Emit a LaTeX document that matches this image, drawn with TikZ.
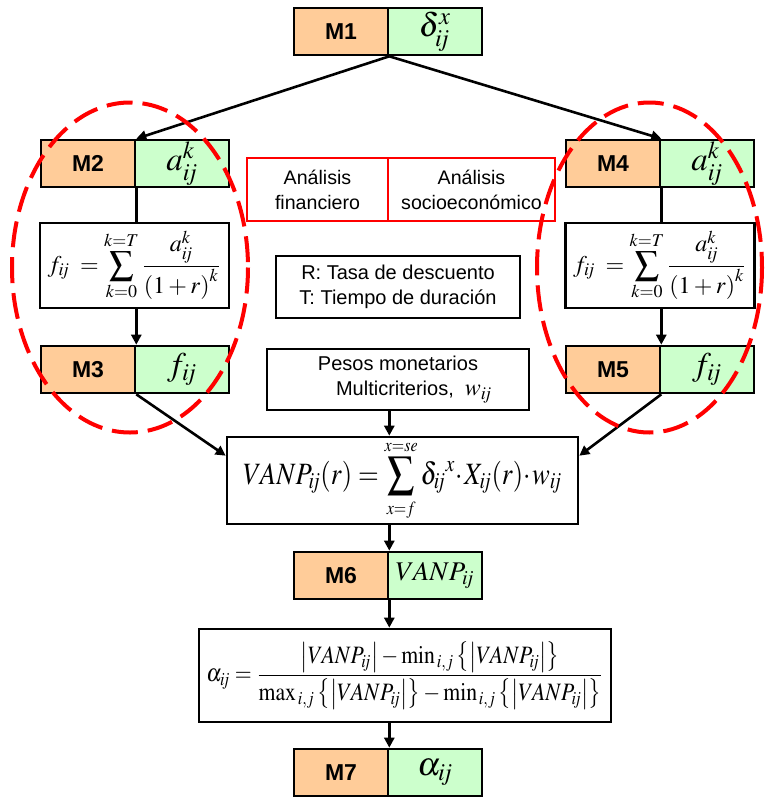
\documentclass[tikz,border=0pt]{standalone}
\usepackage{mathptmx}
\usepackage{graphicx}
\usepackage{fontspec}
\setmainfont{Liberation Serif}
\setsansfont{Liberation Sans}
\usetikzlibrary{arrows.meta}
\definecolor{orM}{HTML}{FFCC99}
\definecolor{grM}{HTML}{CCFFCC}
\newcommand{\sij}{\mathit{ij}}
\tikzset{
  bx/.style={draw, line width=1.3pt, inner sep=0pt},
  mlab/.style={bx, fill=orM, minimum width=47pt, minimum height=23.5pt, font=\sffamily\bfseries\fontsize{11.5}{13}\selectfont},
  mval/.style={bx, fill=grM, minimum width=47pt, minimum height=23.5pt, font=\fontsize{16.5}{18}\selectfont},
  fbox/.style={bx, fill=white},
  redbox/.style={draw=red, line width=1pt, inner sep=0pt, align=center, font=\sffamily\fontsize{9.8}{12.5}\selectfont},
  txtbox/.style={bx, align=center, font=\sffamily\fontsize{10}{12.5}\selectfont},
  ln/.style={line width=1.3pt},
  arr/.style={line width=1.3pt, -{Triangle[length=5pt,width=5pt]}},
  ell/.style={draw=red, line width=2pt, dash pattern=on 13pt off 5pt}
}
\begin{document}
\begin{tikzpicture}[x=0.5pt,y=-0.5pt]
\useasboundingbox (0,0) rectangle (765,798);
% M1
\node[mlab] (m1o) at (341,31.5) {M1};
\node[mval] (m1g) at (435,31.5) {$\delta_{\sij}^{x}$};
% M2 / M4
\node[mlab] (m2o) at (88,163.5) {M2};
\node[mval] (m2g) at (182,163.5) {$a_{\sij}^{k}$};
\node[mlab] (m4o) at (613,163.5) {M4};
\node[mval] (m4g) at (707,163.5) {$a_{\sij}^{k}$};
% formula boxes
\node[fbox, minimum width=94.5pt, minimum height=42.5pt, font=\fontsize{12}{14}\selectfont] (fl) at (134.5,265.5)
  {$\displaystyle f_{\sij}\;=\sum_{k=0}^{k=T}\frac{a_{\sij}^{k}}{\left(1+r\right)^{k}}$};
\node[fbox, minimum width=94.5pt, minimum height=42.5pt, font=\fontsize{12}{14}\selectfont] (fr) at (660,265.5)
  {$\displaystyle f_{\sij}\;=\sum_{k=0}^{k=T}\frac{a_{\sij}^{k}}{\left(1+r\right)^{k}}$};
% M3 / M5
\node[mlab] (m3o) at (88,369.5) {M3};
\node[mval] (m3g) at (182,369.5) {$f_{\sij}$};
\node[mlab] (m5o) at (613,369.5) {M5};
\node[mval] (m5g) at (707,369.5) {$f_{\sij}$};
% red boxes
\node[redbox, minimum width=70.5pt, minimum height=31.5pt] (fin) at (317.5,189.5) {Análisis\\financiero};
\node[redbox, minimum width=83.5pt, minimum height=31.5pt] (soc) at (471.5,189.5) {Análisis\\socioeconómico};
% info boxes
\node[txtbox, minimum width=122pt, minimum height=31pt] (rt) at (398,287) {R: Tasa de descuento\\T: Tiempo de duración};
\node[txtbox, minimum width=131pt, minimum height=30.5pt] (pesos) at (398,379.5) {Pesos monetarios\\\hspace{1.6em}Multicriterios, \ {\fontsize{12}{12}\selectfont$w_{\sij}$}};
% VANP
\node[fbox, minimum width=175.5pt, minimum height=43.5pt, font=\fontsize{15.5}{18}\selectfont] (vanp) at (402.5,480.5)
  {\scalebox{0.86}[1]{$\displaystyle VANP_{\sij}(r)=\sum\limits_{\scriptscriptstyle x=f}^{\scriptscriptstyle x=se}\delta_{\sij}{}^{x}\!\cdot\! X_{\sij}(r)\!\cdot\! w_{\sij}$}};
% M6
\node[mlab] (m6o) at (341,575.5) {M6};
\node[mval, font=\fontsize{13.5}{15}\selectfont] (m6g) at (435,575.5) {$VANP_{\sij}$};
% alpha
\node[fbox, minimum width=206pt, minimum height=46.5pt, font=\fontsize{12.5}{14}\selectfont] (alpha) at (405,675.5)
  {\scalebox{0.87}[1]{$\displaystyle \alpha_{\sij}=\frac{\left|VANP_{\sij}\right|-\mathrm{min}_{\,i,j}\left\{\left|VANP_{\sij}\right|\right\}}{\mathrm{max}_{\,i,j}\left\{\left|VANP_{\sij}\right|\right\}-\mathrm{min}_{\,i,j}\left\{\left|VANP_{\sij}\right|\right\}}$}};
% M7
\node[mlab] (m7o) at (341,772.5) {M7};
\node[mval] (m7g) at (435,772.5) {$\alpha_{\sij}$};
% connectors
\draw[arr] (m1o.south east) -- (m2o.north east);
\draw[arr] (m1o.south east) -- (m4o.north east);
\draw[ln] (m2o.south east) -- (m2o.south east |- fl.north);
\draw[arr] (m2o.south east |- fl.south) -- (m3o.north east);
\draw[ln] (m4o.south east) -- (m4o.south east |- fr.north);
\draw[arr] (m4o.south east |- fr.south) -- (m5o.north east);
\draw[arr] (m3o.south east) -- ([yshift=-10pt]vanp.north west);
\draw[arr] (m5o.south east) -- ([yshift=-10pt]vanp.north east);
\draw[arr] (m6o.north east |- pesos.south) -- (m6o.north east |- vanp.north);
\draw[arr] (m6o.north east |- vanp.south) -- (m6o.north east);
\draw[arr] (m6o.south east) -- (m6o.south east |- alpha.north);
\draw[arr] (m7o.north east |- alpha.south) -- (m7o.north east);
% dashed ellipses
\draw[ell] (130,267.5) ellipse [x radius=118, y radius=165];
\draw[ell] (649.5,267.5) ellipse [x radius=112.5, y radius=165];
\end{tikzpicture}
\end{document}
